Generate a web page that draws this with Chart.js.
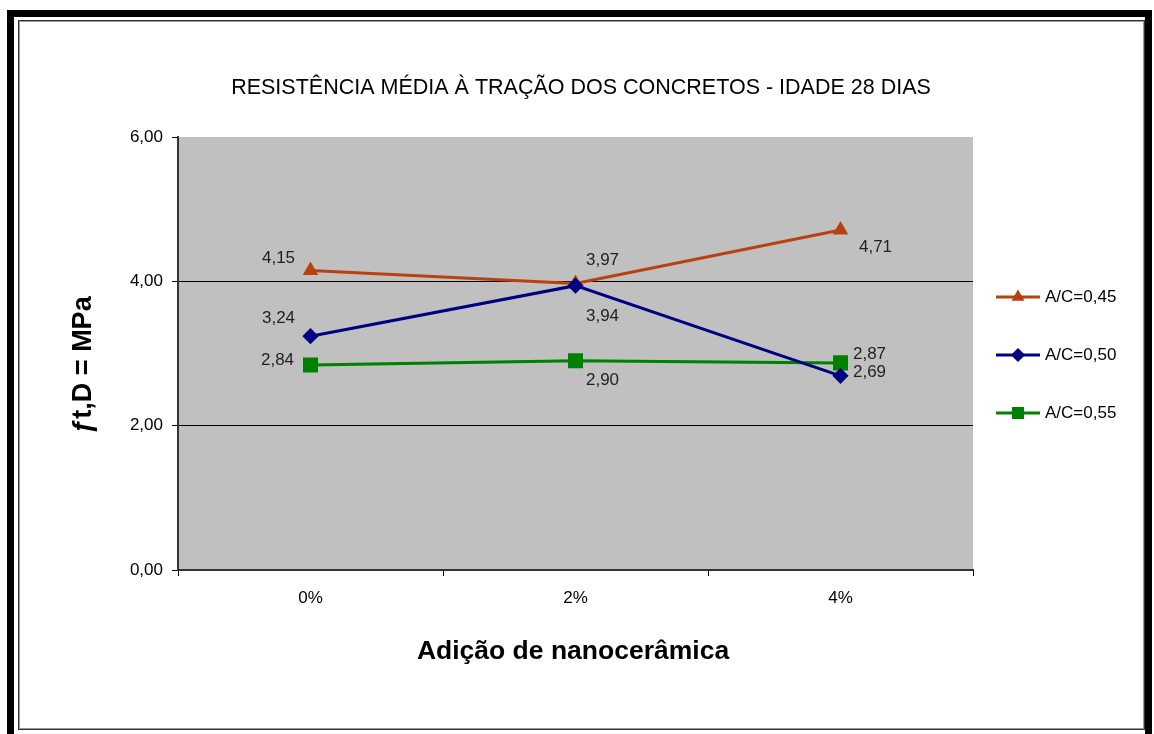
<!DOCTYPE html>
<html>
<head>
<meta charset="utf-8">
<script src="https://cdn.jsdelivr.net/npm/chart.js@4"></script>
<style>
  html, body { margin: 0; padding: 0; background: #fff; }
  #wrap { position: relative; width: 1154px; height: 734px; overflow: hidden; }
  .outer { position: absolute; left: 7px; top: 10px; right: 2px; bottom: -20px; border: 7px solid #000; }
  .inner { position: absolute; left: 18px; top: 20px; right: 9px; bottom: 4px; border: 1px solid #333; box-shadow: inset 0 0 0 1px #999; }
  canvas { position: absolute; left: 0; top: 0; }
</style>
</head>
<body>
<div id="wrap">
  <div class="outer"></div>
  <div class="inner"></div>
  <canvas id="chart" width="1154" height="734"></canvas>
</div>
<script>
const categories = ['0%', '2%', '4%'];
const seriesNames = ['A/C=0,45', 'A/C=0,50', 'A/C=0,55'];
const ac045 = [4.15, 3.97, 4.71];
const ac050 = [3.24, 3.94, 2.69];
const ac055 = [2.84, 2.90, 2.87];
const yTicks = [0, 2, 4, 6];

const chartTitle = 'RESISTÊNCIA MÉDIA À TRAÇÃO DOS CONCRETOS - IDADE 28 DIAS';
const xTitle = 'Adição de nanocerâmica';
const yTitle = 'ƒt,D = MPa';

const FONT = '"Liberation Sans", Arial, sans-serif';

// label offsets relative to each point (style only)
const labelOffsets = [
  [[-32, -12], [27, -23], [35, 17]],
  [[-32, -18], [27, 31], [29, -4]],
  [[-33, -5], [27, 20], [29, -9]]
];

const fmt = v => v.toFixed(2).replace('.', ',');

const plotBg = {
  id: 'plotBg',
  beforeDraw(chart) {
    const { ctx, chartArea: a } = chart;
    ctx.save();
    ctx.fillStyle = '#c0c0c0';
    ctx.fillRect(a.left, a.top, a.right - a.left, a.bottom - a.top);
    ctx.restore();
  }
};

const texts = {
  id: 'texts',
  afterDraw(chart) {
    const { ctx } = chart;
    ctx.save();
    ctx.fillStyle = '#000';
    ctx.textAlign = 'center';
    ctx.textBaseline = 'middle';
    ctx.font = '21.5px ' + FONT;
    ctx.fillText(chartTitle, 581, 88);
    ctx.font = 'bold 26.5px ' + FONT;
    ctx.fillText(xTitle, 573, 652);
    ctx.font = 'bold 27px ' + FONT;
    ctx.translate(84, 365);
    ctx.rotate(-Math.PI / 2);
    ctx.fillText(yTitle, 0, 0);
    ctx.restore();

    // data labels
    ctx.save();
    ctx.font = '17px ' + FONT;
    ctx.fillStyle = '#222';
    ctx.textAlign = 'center';
    ctx.textBaseline = 'middle';
    chart.data.datasets.forEach((ds, i) => {
      const meta = chart.getDatasetMeta(i);
      meta.data.forEach((pt, j) => {
        const off = labelOffsets[i][j];
        ctx.fillText(fmt(ds.data[j]), pt.x + off[0], pt.y + off[1]);
      });
    });
    ctx.restore();

    // legend
    ctx.save();
    const legendY = [297, 355, 413];
    chart.data.datasets.forEach((ds, i) => {
      const y = legendY[i];
      ctx.strokeStyle = ds.borderColor;
      ctx.lineWidth = 3;
      ctx.beginPath();
      ctx.moveTo(996, y);
      ctx.lineTo(1040, y);
      ctx.stroke();
      ctx.fillStyle = ds.borderColor;
      ctx.strokeStyle = ds.borderColor;
      Chart.helpers.drawPoint(ctx, {
        pointStyle: ds.pointStyle,
        radius: ds.legendRadius,
        rotation: 0,
        borderWidth: 1
      }, 1018, y);
      ctx.fillStyle = '#000';
      ctx.font = '17px ' + FONT;
      ctx.textAlign = 'left';
      ctx.textBaseline = 'middle';
      ctx.fillText(seriesNames[i], 1045, y);
    });
    ctx.restore();
  }
};

new Chart(document.getElementById('chart'), {
  type: 'line',
  data: {
    labels: categories,
    datasets: [
      {
        label: seriesNames[0], data: ac045,
        borderColor: '#b8420f', backgroundColor: '#b8420f',
        borderWidth: 3, pointStyle: 'triangle', pointRadius: 6, legendRadius: 4.5,
        tension: 0, order: 2
      },
      {
        label: seriesNames[1], data: ac050,
        borderColor: '#000080', backgroundColor: '#000080',
        borderWidth: 3, pointStyle: 'rectRot', pointRadius: 6, legendRadius: 5,
        tension: 0, order: 1
      },
      {
        label: seriesNames[2], data: ac055,
        borderColor: '#008000', backgroundColor: '#008000',
        borderWidth: 3, pointStyle: 'rect', pointRadius: 8.5, legendRadius: 6.5,
        tension: 0, order: 3
      }
    ]
  },
  options: {
    responsive: false,
    animation: false,
    layout: { padding: { left: 0, top: 137, right: 181, bottom: 0 } },
    plugins: { legend: { display: false }, title: { display: false }, tooltip: { enabled: false } },
    scales: {
      x: {
        offset: true,
        afterFit: s => { s.height = 164; },
        grid: { offset: true, drawOnChartArea: false, tickLength: 6, color: '#000', tickColor: '#000' },
        border: { color: '#333', width: 2 },
        ticks: { color: '#000', font: { family: FONT, size: 17 }, padding: 12 }
      },
      y: {
        min: 0,
        max: 6,
        afterFit: s => { s.width = 178; },
        afterBuildTicks: s => { s.ticks = yTicks.map(v => ({ value: v })); },
        grid: {
          color: c => (c.tick && c.tick.value === 6) ? 'rgba(0,0,0,0)' : '#000',
          tickColor: '#000',
          tickLength: 6,
          lineWidth: 1
        },
        border: { color: '#333', width: 2 },
        ticks: {
          color: '#000',
          font: { family: FONT, size: 17 },
          padding: 9,
          callback: v => fmt(v)
        }
      }
    }
  },
  plugins: [plotBg, texts]
});
</script>
</body>
</html>
